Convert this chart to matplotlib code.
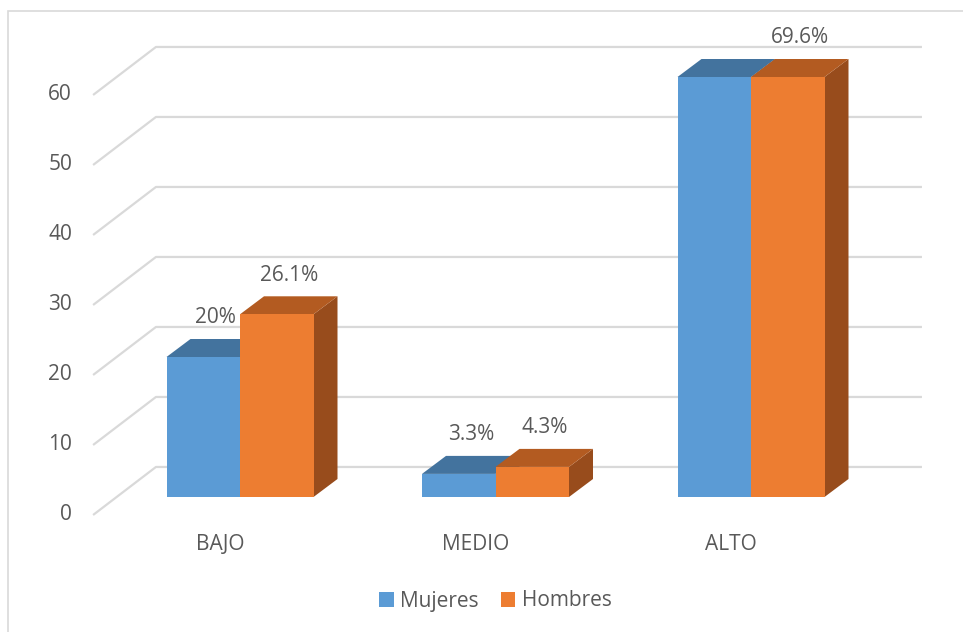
import numpy as np
import matplotlib
matplotlib.use("Agg")
import matplotlib.pyplot as plt
from matplotlib.patches import Rectangle, Polygon

plt.rcParams['font.family'] = ['Open Sans', 'DejaVu Sans']

categories = ['BAJO', 'MEDIO', 'ALTO']
series = ['Mujeres', 'Hombres']
mujeres = [20, 3.3, 76.7]
hombres = [26.1, 4.3, 69.6]
mujeres_labels = ['20%', '3.3%', None]
hombres_labels = ['26.1%', '4.3%', '69.6%']
yticks = [0, 10, 20, 30, 40, 50, 60]

front_colors = ['#5B9BD5', '#ED7D31']
top_colors = ['#43739E', '#B35B21']
side_colors = ['#3E6B94', '#984C1C']
grid_c = '#D9D9D9'
text_c = '#595959'

ymax = 60
px_x = 255.5          # pixels per category unit
px_y = 7.0            # pixels per value unit
W, H = 963, 632
x0px, y0px = 240, 497  # pixel position of category 0 / value 0 (bar front)

fig = plt.figure(figsize=(W / 100, H / 100), dpi=100)
ax = fig.add_axes([0, 0, 1, 1])
ax.set_xlim(-x0px / px_x, (W - x0px) / px_x)
ax.set_ylim((y0px - H) / px_y, y0px / px_y)
ax.axis('off')

# chart border
fig.patches.append(Rectangle((8 / W, -0.1), 1.2, 1.1 - 11 / H, transform=fig.transFigure,
                             fill=False, edgecolor=grid_c, lw=1.2))

# walls / gridlines
gx_front, gx_back, gx_end = -0.575, -0.329, 2.669
gy_front, gy_back = -2.57, 4.29
for t in yticks:
    ax.plot([gx_front, gx_back, gx_end], [t + gy_front, t + gy_back, t + gy_back],
            color=grid_c, lw=1.6, solid_capstyle='butt', zorder=1)
    ax.text(-0.6575, t + gy_front, str(t), ha='right', va='center',
            fontsize=15, color=text_c)

# bars
bw = 73.5 / px_x
dx = 24 / px_x
dy = 18 / px_y
x = np.arange(len(categories))
for s, (vals, labs) in enumerate([(mujeres, mujeres_labels), (hombres, hombres_labels)]):
    for i, v in enumerate(vals):
        h = min(v, ymax)
        xl = x[i] - bw + s * bw
        xr = xl + bw
        ax.add_patch(Polygon([(xr, 0), (xr, h), (xr + dx, h + dy), (xr + dx, dy)],
                             closed=True, facecolor=side_colors[s], edgecolor='none', zorder=2 + s))
        ax.add_patch(Polygon([(xl, h), (xr, h), (xr + dx, h + dy), (xl + dx, h + dy)],
                             closed=True, facecolor=top_colors[s], edgecolor='none', zorder=2 + s))
        ax.add_patch(Rectangle((xl, 0), bw, h, facecolor=front_colors[s],
                               edgecolor='none', zorder=2 + s))
        if labs[i]:
            ax.text(xl + bw / 2 + dx / 2, h + dy / 2 + 4.3, labs[i], ha='center', va='center',
                    fontsize=15, color=text_c, zorder=5)

for i, c in enumerate(categories):
    ax.text(x[i] - 20 / px_x, -48 / px_y, c, ha='center', va='center',
            fontsize=15, color=text_c)

handles = [Rectangle((0, 0), 1, 1, facecolor=c) for c in front_colors]
fig.legend(handles, series, loc='center', bbox_to_anchor=(495.5 / W, 1 - 601 / H), ncol=2,
           frameon=False, fontsize=15, labelcolor=text_c, handlelength=0.7,
           handleheight=0.7, handletextpad=0.3, columnspacing=1.05)

fig.savefig('out.png', dpi=100, facecolor='white')
